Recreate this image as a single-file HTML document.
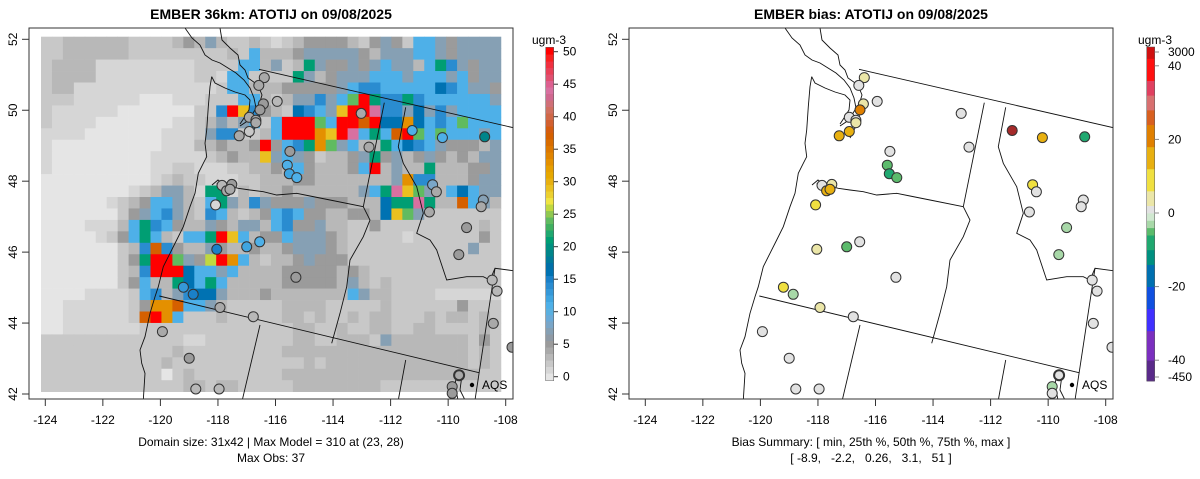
<!DOCTYPE html>
<html><head><meta charset="utf-8"><style>
html,body{margin:0;padding:0;background:#fff;}
svg{display:block;font-family:"Liberation Sans",Arial,sans-serif;}
</style></head><body>
<svg id="chart" width="1200" height="479" viewBox="0 0 1200 479" xmlns="http://www.w3.org/2000/svg">
<defs>
<clipPath id="clipL"><rect x="29" y="28" width="484" height="371"/></clipPath>
<clipPath id="clipR"><rect x="629" y="28" width="484" height="371"/></clipPath>
</defs>
<g id="gridG" clip-path="url(#clipL)"></g>
<g id="mapL" clip-path="url(#clipL)"></g>
<g id="mapR" clip-path="url(#clipR)"></g>
<g id="dotsL" clip-path="url(#clipL)"></g>
<g id="dotsR" clip-path="url(#clipR)"></g>
<rect x="29" y="28" width="484" height="371" fill="none" stroke="#333"/>
<rect x="629" y="28" width="484" height="371" fill="none" stroke="#333"/>
<text x="271" y="19" text-anchor="middle" font-size="14" font-weight="bold">EMBER 36km: ATOTIJ on 09/08/2025</text>
<text x="871" y="19" text-anchor="middle" font-size="14" font-weight="bold">EMBER bias: ATOTIJ on 09/08/2025</text>
<text x="271" y="446" text-anchor="middle" font-size="12">Domain size: 31x42 | Max Model = 310 at (23, 28)</text>
<text x="271" y="462" text-anchor="middle" font-size="12">Max Obs: 37</text>
<text x="871" y="446" text-anchor="middle" font-size="12">Bias Summary: [ min, 25th %, 50th %, 75th %, max ]</text>
<text x="871" y="462" text-anchor="middle" font-size="12" xml:space="preserve">[ -8.9,   -2.2,   0.26,   3.1,   51 ]</text>
<g id="axes"></g>
<g id="cbL"></g>
<g id="cbR"></g>
<circle cx="472" cy="385" r="2.2" fill="#000"/>
<text x="482" y="389" font-size="12">AQS</text>
<circle cx="1072" cy="385" r="2.2" fill="#000"/>
<text x="1082" y="389" font-size="12">AQS</text>
</svg>
<script>
// ---- data ----
const gridRows = [
"ccddddddccccde"+"dfdccdcbcdeeeedcefecggfeffff",
"ccddddddcccccc"+"cccdcgdddefffffedfffggfeffff",
"cddddbbbbbbbbb"+"ccccggdfcdtfeefefgffdgthfeff",
"cddddbbbbbbbbb"+"ccbggcccctfdefffgggfgggfgeff",
"cddbbbbbbbbbbb"+"bbcggdddeeeeefghhgggggihgffe",
"cccbbbbbbaaabb"+"bcccggdcdffhfgGrthhthggggggf",
"cbbbbbbaaaaaaa"+"cchryhedcihgfyrrphhfifhfgggg",
"cbbbbaaaaaaabb"+"cdfdfgcgrrrGgrrOriioighgGggg",
"bbbbaaaaaaabbb"+"cfhhccdgrrroyrpgtgOrGgGgggfg",
"baaaaaaaaaabbb"+"ddeddereghtoGfgddtgihgfeeedf",
"baaaaaaaaabbbb"+"bcdeddyfgfecddeftefdefededff",
"baaaaaaaaabbccbbbccddedgedddegrdfddtdddeef",
"aaaaaaaaaabcdccbbbccdddeedddddddfohhdddeff",
"aaaaaaaabcdffdbttbdcddeddddddfgtpyGfdgigff",
"aaaaaabcdeggfdcgtfdhfeeefeeedddittptddOgfd",
"aaaaaaacefghfdchgdcdeghgeeddeediyGfccccccc",
"aaaabbbdgthgeddfedffdgheefddccecccccccccdc",
"aaaaabcegtgdcggtrygdeegfffedcccccbccccccec",
"aaaaaaacdhOheddfeddeddefffedcccccccccccfcc",
"aaaaaaacetrrGfeYrogdcddefeeecccccccccccccc",
"aaaaaaacdhrrriggfgddddeeeeededcccccccccccc",
"aaaaaaacegddtigtgdddddeeeeedfdcdcccccccccc",
"aaaabbbbcghdfhiifdddedddddddgfddccccbbbbbb",
"aabbbbbbceooOggfdcccccddddcccccdcccccceccc",
"aabbbbbbcOrogcccdcccccddcdccdcddcccdcddcdc",
"aabbbbbbbccccccccccccccddccdccddccddccccdc",
"cccccccccccccbbccccccccddccdddcfdddddddcec",
"ccccccccccccdcccccccccdddddddddddddddddcdc",
"cccccccccccdccccccccccccdcdddddddddddddcdc",
"cccccccccccacdccccccccddddddddddddddddddcc",
"cccccccccccccddcddcccccddddddddccccccccccc"
];
const codeValue = {a:0,b:1,c:2,d:3,e:5,f:7,g:11,h:14,i:16,t:21,G:24,Y:26,y:29,o:33,O:37,p:44,r:50};
const siteLon = [-116.39,-116.58,-115.94,-116.42,-116.54,-116.91,-116.68,-116.68,-116.91,-117.26,-113.02,-111.25,-110.20,-108.73,-115.50,-112.75,-115.59,-115.52,-115.26,-117.86,-117.52,-117.70,-117.58,-118.08,-110.54,-110.41,-108.78,-108.85,-110.65,-109.36,-109.63,-116.55,-117.00,-118.04,-115.29,-119.20,-118.86,-117.93,-116.77,-119.93,-119.00,-118.77,-117.96,-108.47,-108.30,-108.43,-107.78,-109.62,-109.86,-109.86];
const siteLat = [50.92,50.70,50.25,50.18,50.01,49.80,49.72,49.65,49.40,49.28,49.91,49.43,49.23,49.25,48.84,48.96,48.45,48.21,48.10,47.88,47.91,47.73,47.77,47.33,47.90,47.70,47.47,47.28,47.13,46.69,45.93,46.29,46.15,46.08,45.29,45.01,44.81,44.44,44.18,43.76,43.01,42.14,42.14,45.21,44.90,43.99,43.32,42.53,42.21,42.02];
const obsValues = [4,4,3,5,5,4,4,4,2,4,4,11,11,19,5,4,11,12,11,3,5,4,4,1,8,4,7,4,4,5,5,11,12,15,5,13,15,4,3,4,5,3,3,3,3,4,5,4,5,5];
const biasValues = [3,0,0,3,22,0,0,3,17,17,0,51,14,-8,0,0,-5,-7,-6,0,2,16,16,7,7,0,0,0,0,-2,-2,0,-5,2,0,8,-2,2,0,0,0,0,0,0,0,0,0,0,-2,0];
const obsTicks = [0,5,10,15,20,25,30,35,40,45,50];
const biasTicks = [3000,40,20,0,-20,-40,-450];
const lonTicks = [-124,-122,-120,-118,-116,-114,-112,-110,-108];
const latTicks = [42,44,46,48,50,52];

// ---- scales ----
const NS="http://www.w3.org/2000/svg";
const xScale=(lon,off)=>45.3+(lon+124)*28.775+off;
const yScale=lat=>39.3+(52-lat)*35.47;
const colX=c=>41+c*10.95, rowY=r=>36.7+r*11.45;
const obsPal=["#e5e5e5","#d6d6d6","#c8c8c8","#b8b8b8","#a9a9a9","#9b9b9b","#8f9aa5","#86a0b4","#7aa6c8","#6aaad8","#5ab0e0","#4eb0e8","#40a5e0","#3598d8","#2a8cd0","#1a80c8","#0072b2","#0070a8","#007a9a","#00858a","#009080","#009e73","#20a870","#40b060","#60bb60","#90c850","#c0d840","#f0e442","#ecd030","#eac020","#e8b010","#e6a800","#e69f00","#e49000","#e08400","#dc7800","#d86c00","#d56000","#d45c10","#d26030","#d06848","#d07060","#d07078","#d06890","#d870a0","#dd6090","#e05070","#e84058","#f03040","#f82020","#ff0000"];
const obsColor=v=>obsPal[Math.max(0,Math.min(50,Math.round(v)))];
const bStops=[[-450,"#5a2a8a"],[-40,"#7b2fbf"],[-32,"#4030ff"],[-26,"#1050e0"],[-20,"#0070b0"],[-14,"#009080"],[-10,"#20a870"],[-6,"#5cbb6c"],[-3,"#a8d8a8"],[-1,"#d0e8d0"],[0,"#e2e2e2"],[2,"#ebe6a8"],[6,"#f0e040"],[12,"#e8b010"],[18,"#e08000"],[24,"#d86020"],[28,"#d87070"],[32,"#e04060"],[36,"#ff1010"],[42,"#d01010"],[50,"#a52a2a"]];
function biasColor(v){let c=bStops[0][1];for(const s of bStops){if(v>=s[0])c=s[1];}return c;}
const biasY=v=>213-v*3.68;
function mk(tag,attrs,parent){const e=document.createElementNS(NS,tag);for(const k in attrs)e.setAttribute(k,attrs[k]);parent.appendChild(e);return e;}

// ---- grid ----
const gridG=document.getElementById('gridG');
gridRows.forEach((row,r)=>{for(let c=0;c<42;c++){const ch=row[c]||'c';
 const e=mk('rect',{x:colX(c).toFixed(2),y:rowY(r).toFixed(2),width:11.3,height:11.8,fill:obsColor(codeValue[ch])},gridG);
 
 }});

// ---- map outlines (base map geometry, left-panel pixel frame) ----
const outlines=[
[[211.7,76.7],[210,86.7],[208.3,106.7],[206.7,130],[205,143.3],[206.7,156.7],[203.3,163.3],[198.3,173.3],[195,193.3],[190,206.7],[183.3,226.7],[176.7,240],[170,253.3],[163.3,266.7],[158.3,286.7],[155,296.7],[150,313.3],[145,336.7],[140,350],[141.7,363.3],[145,373.3],[143.3,400]],
[[216.7,183.3],[225,185],[238.3,188.3],[250,190],[263.3,191.7],[276.7,195],[296.7,193.3],[310,196],[330,200],[363.3,206.7]],
[[363.3,206.7],[370,220],[363.3,236.7],[350,260],[346.7,286.7],[340,313.3],[331.7,343.3]],
[[384.3,102.7],[363.3,206.7]],
[[259,69.3],[513.3,127.7]],
[[405.7,107.3],[398.3,146.7],[403.3,163.3],[416.7,186.7],[423.3,213.3],[416.7,233.3],[430,240],[436.7,250],[446.7,280],[466.7,276.7],[483.3,276.7],[490,280],[495,268.3],[513.3,270.7]],
[[495,268.3],[475,400]],
[[159.3,296],[479,372.7]],
[[260,325],[242.3,400]],
[[405.7,360],[398.3,400]],
[[185,28],[192,38],[200,45],[205,55],[212,60],[220,63],[228,68],[236,73],[244,80],[250,88],[254,98],[256,108],[252,115],[246,122],[240,126]],
[[211.7,76.7],[215,83],[225,88],[235,92],[245,95],[250,100],[249,110],[244,118],[240,124]],
[[220,28],[222,40],[230,48],[238,55],[240,65],[245,70],[248,78],[258,85],[262,95],[258,108],[260,120],[255,128],[250,138]],
[[212,185],[218,180],[222,183]],
[[458,400],[455,385],[457,372],[462,375],[460,390],[465,400]]
];
function drawMap(gid,off){const g=document.getElementById(gid);
 outlines.forEach(pl=>{const e=mk('polyline',{points:pl.map(p=>(p[0]+off)+','+p[1]).join(' '),fill:'none',stroke:'#111','stroke-width':0.9},g);
 
 });}
drawMap('mapL',0);drawMap('mapR',600);

// ---- sites ----
function drawSites(gid,off,vals,colorFn){const g=document.getElementById(gid);
 siteLon.forEach((lon,i)=>{const e=mk('circle',{cx:xScale(lon,off).toFixed(1),cy:yScale(siteLat[i]).toFixed(1),r:5,fill:colorFn(vals[i]),stroke:'#333','stroke-width':i===47?2:1},g);
 
 });}
drawSites('dotsL',0,obsValues,obsColor);
drawSites('dotsR',600,biasValues,biasColor);

// ---- axes ----
const ax=document.getElementById('axes');
[0,600].forEach(off=>{
 lonTicks.forEach(t=>{const x=xScale(t,off);
  mk('line',{x1:x,x2:x,y1:399,y2:406,stroke:'#333'},ax);
  const tx=mk('text',{x:x,y:424,'text-anchor':'middle','font-size':12},ax);tx.textContent=t;
  
  });
 latTicks.forEach(t=>{const y=yScale(t);const x0=29+off;
  mk('line',{x1:x0-7,x2:x0,y1:y,y2:y,stroke:'#333'},ax);
  const tx=mk('text',{x:x0-12,y:y,'text-anchor':'middle','font-size':12,transform:`rotate(-90 ${x0-12} ${y})`},ax);tx.textContent=t;
  
  });
});

// ---- colorbars ----
const cbL=document.getElementById('cbL');
const oy=v=>376.7-v*6.5;
for(let v=0;v<=50;v++){const e=mk('rect',{x:545.7,y:(oy(v)-3.25-(v===50?1:0)).toFixed(2),width:8,height:v===50?7.5:6.6,fill:obsColor(v)},cbL);
 
 }
mk('rect',{x:545.7,y:47.3,width:8,height:333.4,fill:'none',stroke:'#555','stroke-width':0.5},cbL);
obsTicks.forEach(t=>{mk('line',{x1:553.7,x2:558,y1:oy(t),y2:oy(t),stroke:'#333'},cbL);
 const tx=mk('text',{x:563,y:oy(t)+4,'font-size':12},cbL);tx.textContent=t;
 
 });
const ul=mk('text',{x:549,y:44,'text-anchor':'middle','font-size':12},cbL);ul.textContent='ugm-3';



const cbR=document.getElementById('cbR');
for(let v=-50;v<46;v+=2){const y1=Math.max(47,Math.min(381,213-(v+2)*3.68)),y2=Math.max(47,Math.min(381,213-v*3.68));
 if(y2<=y1)continue;
 const e=mk('rect',{x:1146.7,y:y1.toFixed(2),width:8,height:(y2-y1+0.4).toFixed(2),fill:biasColor(v+1)},cbR);
 
 }
mk('rect',{x:1146.7,y:47,width:8,height:334,fill:'none',stroke:'#555','stroke-width':0.5},cbR);
biasTicks.forEach(t=>{const y=t===3000?52:(t===-450?377:biasY(t));
 mk('line',{x1:1154.7,x2:1159,y1:y,y2:y,stroke:'#888'},cbR);
 const tx=mk('text',{x:1168,y:y+4,'font-size':12},cbR);tx.textContent=t;
 
 });
const ur=mk('text',{x:1155,y:44,'text-anchor':'middle','font-size':12},cbR);ur.textContent='ugm-3';


</script>
</body></html>
